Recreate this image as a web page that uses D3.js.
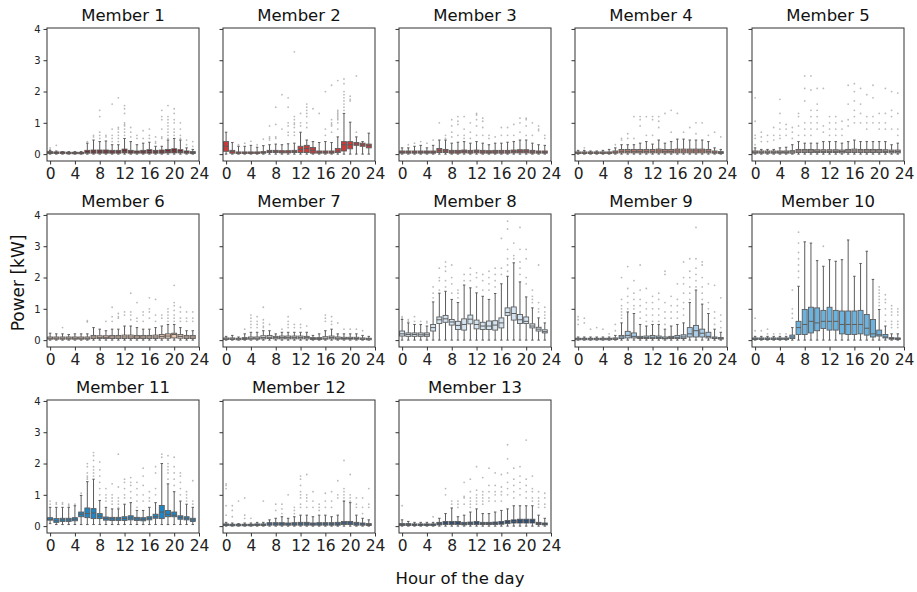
<!DOCTYPE html>
<html><head><meta charset="utf-8">
<script src="https://cdn.jsdelivr.net/npm/d3@7"></script>
<style>
body{margin:0;background:#fff;}
svg{font-family:"DejaVu Sans",sans-serif;}
</style></head>
<body><svg id="chart" width="917" height="592"></svg>
<script>
// ---- data: per hour [lowWhisker, q1, median, q3, highWhisker] ----
const hours = d3.range(24);
const xTicks = [0,4,8,12,16,20,24];
const yTicks = [0,1,2,3,4];
const memberNames = ["Member 1","Member 2","Member 3","Member 4","Member 5","Member 6","Member 7","Member 8","Member 9","Member 10","Member 11","Member 12","Member 13"];
const memberColors = ["#7b1f24","#c93a3a","#a34f4f","#c6806e","#b9a29d","#efc9b0","#dddddd","#d4e3f0","#a9cde8","#6cb2de","#1f86c6","#2b5f96","#0d3f7b"];

const m1Box = [[0,.02,.05,.08,.12],[0,.02,.04,.07,.1],[0,.02,.04,.07,.08],[0,.02,.04,.06,.08],[0,.02,.04,.06,.08],[0,.02,.04,.06,.08],[0,.03,.06,.12,.35],[0,.03,.07,.13,.45],[0,.03,.07,.13,.4],[0,.03,.07,.13,.42],[0,.03,.07,.12,.3],[0,.03,.07,.12,.3],[0,.04,.09,.16,.5],[0,.03,.07,.12,.4],[0,.03,.06,.1,.3],[0,.03,.07,.12,.35],[0,.03,.08,.14,.38],[0,.03,.07,.12,.25],[0,.03,.07,.13,.25],[0,.04,.09,.15,.45],[0,.04,.1,.17,.5],[0,.04,.08,.14,.45],[0,.03,.06,.1,.2],[0,.02,.05,.08,.15]];
const m1Out = [[.2,.15],[.28],[],[],[],[],[.4],[.6,.55],[1.4,1.2,.7,.6,.5],[.6,.55],[1.6,.8,.6,.5,.4],[1.8,.85,.8,.7,.6,.5,.4],[1.55,1.45,1.3,1,.95,.9,.8,.7,.6],[.85,.7,.55],[.6,.5],[.75,.5],[.8,.6,.5],[.55,.4,.35],[1.4,1.2,1.1,.8,.55,.5],[1.55,1.2,1.1,1,.9,.8,.7,.6,.5],[1.45,1.3,1.1,1,.8,.7,.6],[1,.8,.6,.5],[.45,.3],[.4,.25]];

const m2Box = [[0,.09,.25,.4,.7],[0,.03,.08,.12,.37],[0,.02,.04,.07,.25],[0,.02,.04,.07,.25],[0,.02,.04,.07,.28],[0,.02,.04,.07,.22],[0,.03,.05,.08,.27],[0,.05,.08,.12,.3],[0,.05,.08,.12,.32],[0,.04,.07,.11,.3],[0,.04,.07,.11,.33],[0,.05,.08,.12,.35],[0,.05,.15,.25,.7],[0,.05,.18,.28,.45],[0,.03,.12,.21,.4],[0,.03,.06,.1,.37],[0,.03,.06,.1,.4],[0,.03,.06,.1,.37],[0,.05,.1,.18,.55],[0,.1,.3,.4,1.3],[0,.17,.3,.4,1.02],[0,.28,.32,.37,.55],[0,.25,.3,.35,.4],[0,.2,.27,.32,.67]];
const m2Out = [[],[],[.3],[.35],[.41],[.3],[.48],[.9,.55,.5,.45],[1.5,.95,.55,.5],[1.9,.8],[1.8,1.5,1,.9,.7,.6],[3.27,1.2,1.1,1,.95,.85,.7,.6],[1.3,1,.9],[1.6,1.5,1.4,1.3,1.2,1,.85],[1.45],[1.3],[2,.8,.6],[2.2,1.1,1,.95,.9,.7],[2.35,1.4,1.35,1.3,1.25,1.2,1.15,1.1,1,.8],[2.4,2.25,2,1.9,1.8,1.7,1.6,1.5,1.4],[1.85,1.75,1.7],[2.5,.7],[],[]];

const m3Box = [[0,.03,.06,.1,.2],[0,.03,.06,.1,.2],[0,.03,.06,.1,.25],[0,.03,.06,.1,.28],[0,.03,.06,.1,.2],[0,.03,.06,.1,.28],[0,.05,.11,.18,.45],[0,.05,.1,.15,.45],[0,.03,.07,.12,.35],[0,.03,.07,.12,.38],[0,.04,.08,.13,.4],[0,.03,.07,.12,.35],[0,.04,.08,.13,.4],[0,.03,.07,.12,.35],[0,.03,.06,.11,.3],[0,.03,.07,.12,.35],[0,.03,.07,.12,.35],[0,.03,.07,.12,.38],[0,.04,.08,.13,.4],[0,.04,.09,.14,.45],[0,.04,.09,.14,.45],[0,.03,.07,.12,.35],[0,.03,.06,.1,.3],[0,.03,.06,.1,.28]];
const m3Out = [[],[.3],[.35],[.4],[.35],[.45],[1],[.6,.5],[1.1,.9,.7,.55],[1.2,1.05,.95,.6],[1.2,.8,.6,.5],[1,.7,.5],[1.3,1.25,1.1,.9,.6],[1.15,1.05,.85,.6],[.6,.5],[.55],[.85,.6],[.85,.6],[.95,.6],[1.15,1,.7],[1.15,1.1,.9,.6],[1,.6],[.9,.8,.75],[.6,.5]];

const m4Box = [[0,.02,.04,.07,.12],[0,.02,.04,.07,.12],[0,.02,.04,.07,.1],[0,.02,.04,.07,.1],[0,.02,.04,.07,.12],[0,.02,.04,.07,.15],[0,.03,.06,.1,.2],[0,.04,.09,.15,.3],[0,.04,.09,.15,.3],[0,.04,.09,.15,.3],[0,.04,.09,.15,.35],[0,.04,.09,.15,.4],[0,.04,.09,.15,.32],[0,.04,.1,.16,.45],[0,.04,.09,.15,.35],[0,.04,.09,.15,.4],[0,.04,.1,.16,.48],[0,.04,.1,.16,.48],[0,.04,.1,.16,.45],[0,.04,.1,.16,.45],[0,.04,.1,.16,.45],[0,.04,.09,.15,.4],[0,.03,.06,.1,.2],[0,.02,.05,.08,.15]];
const m4Out = [[],[.2],[],[],[],[],[.3],[.5,.45],[.65,.5],[1.2,.5],[1.2,1.1,.9],[1.2,.6],[1.2,1.1,.6],[1.2,1.05,.85],[1.3],[1.4,.7],[1.3],[.7],[.85],[1,.65],[1],[.6],[.7],[.55]];

const m5Box = [[0,.03,.06,.1,.2],[0,.03,.06,.1,.15],[0,.03,.06,.1,.15],[0,.03,.06,.1,.15],[0,.03,.06,.1,.2],[0,.03,.06,.1,.22],[0,.03,.07,.11,.3],[0,.05,.1,.15,.4],[0,.05,.1,.15,.35],[0,.05,.1,.15,.35],[0,.05,.09,.14,.35],[0,.05,.09,.14,.4],[0,.05,.09,.14,.4],[0,.05,.09,.14,.4],[0,.04,.08,.13,.35],[0,.05,.1,.15,.4],[0,.05,.1,.16,.45],[0,.05,.1,.15,.4],[0,.05,.1,.15,.4],[0,.05,.1,.15,.4],[0,.05,.1,.15,.4],[0,.05,.09,.14,.4],[0,.04,.08,.13,.3],[0,.04,.08,.13,.35]];
const m5Out = [[1.8,1.05,.6,.5,.3],[.7,.55,.4],[.6,.4],[.85,.6,.45],[1.75,1.3,1,.8,.6,.5],[.95,.8,.6],[.85,.7,.5],[1.3,1.2,.9,.6],[2.5,2.1,1.7,1,.8,.6],[2.5,2.05,1.4,1.2,1,.8,.6],[2.1,1.6,1.4,1.2,1,.8],[2.1,.9,.7],[1.2,1,.8,.6],[1.2,1,.8,.6],[1.05,.8,.6],[2.2,1.6,1.1,.9],[2.25,2,1.7,1.4,1.2,1],[2.1,1.6,1.3,1],[1.9,1.2,1,.8],[2.2,1.8,1.2,1],[1.3,1,.8],[2.1,1.3,1,.8],[2,1.4,1.2,.8],[1.95,1.3,.8,.6]];

const m6Box = [[0,.03,.06,.1,.22],[0,.03,.06,.1,.2],[0,.03,.06,.1,.2],[0,.03,.06,.1,.18],[0,.03,.06,.1,.2],[0,.03,.06,.1,.2],[0,.03,.06,.1,.2],[0,.05,.1,.15,.4],[0,.05,.09,.14,.35],[0,.05,.09,.14,.3],[0,.05,.1,.15,.35],[0,.05,.1,.15,.35],[0,.05,.1,.16,.45],[0,.05,.1,.16,.45],[0,.05,.1,.15,.4],[0,.05,.1,.15,.35],[0,.05,.1,.15,.35],[0,.05,.1,.16,.4],[0,.06,.12,.18,.45],[0,.06,.13,.2,.5],[0,.07,.18,.22,.5],[0,.06,.12,.18,.4],[0,.05,.1,.15,.3],[0,.05,.1,.15,.3]];
const m6Out = [[],[],[.4],[],[],[],[.62,.58],[],[],[.6],[1.05,.75,.6],[.85,.75,.7],[.9,.8],[1.5,.9,.8,.65],[1.2,.7,.6],[.9,.8,.6],[1.35,1,.9,.7],[1.3,.8,.6],[.8,.7],[1,.9,.8,.7,.6],[1.75,1.2,1.1,.95,.8,.7,.6],[1.05,.9,.7,.6],[.9,.7,.6],[.9,.7,.6]];

const m7Box = [[0,.02,.04,.07,.12],[0,.02,.04,.07,.15],[0,.02,.04,.06,.1],[0,.02,.05,.08,.2],[0,.03,.06,.1,.25],[0,.03,.06,.1,.25],[0,.04,.08,.14,.3],[0,.05,.09,.15,.3],[0,.04,.08,.12,.2],[0,.04,.08,.13,.25],[0,.04,.08,.13,.25],[0,.04,.08,.13,.25],[0,.04,.08,.13,.25],[0,.04,.08,.12,.25],[0,.02,.05,.08,.15],[0,.02,.05,.08,.2],[0,.03,.06,.11,.3],[0,.04,.08,.13,.35],[0,.03,.06,.1,.2],[0,.03,.05,.09,.2],[0,.03,.05,.09,.2],[0,.03,.05,.09,.2],[0,.02,.04,.07,.15],[0,.02,.04,.06,.12]];
const m7Out = [[],[],[],[.35],[.8,.7,.6,.5,.4],[.75,.6,.5,.4],[1.05,.65,.55,.45,.4],[.5],[],[.35],[.75,.6,.5,.4],[.5,.4],[1,.5,.4],[.45],[],[],[.8,.7,.6],[.75,.6,.5],[.55],[.35],[.35],[.35],[.3],[]];

const m8Box = [[0,.13,.2,.29,.66],[0,.12,.18,.23,.55],[0,.12,.18,.23,.5],[0,.12,.17,.23,.5],[0,.12,.17,.23,.45],[0,.29,.4,.5,1.22],[0,.53,.65,.74,1.5],[0,.57,.68,.79,1.56],[0,.48,.58,.66,1.3],[0,.34,.47,.6,1.2],[0,.32,.5,.68,1.76],[0,.52,.67,.8,1.67],[0,.36,.5,.64,1.51],[0,.34,.45,.57,1.4],[0,.34,.45,.61,1.3],[0,.32,.48,.62,1.49],[0,.39,.55,.71,1.8],[0,.79,.88,1.03,2.04],[0,.64,.85,1.06,2.47],[0,.53,.65,.82,1.86],[0,.53,.6,.74,1.38],[0,.39,.45,.52,1.03],[0,.29,.35,.41,.71],[0,.23,.27,.33,.55]];
const m8Out = [[.75,.7],[.65,.6],[.75,.6],[.6],[.6,.55],[1.7,1.5,1.35],[2.3,2,1.9,1.6],[2.5,2.35,2.2,1.9,1.7],[2.4,2,1.8,1.5],[1.6,1.5,1.35],[2.1,1.9],[2.3,2.1,1.9],[2.15,2,1.7],[2.1,1.9,1.6],[2.2,2,1.8,1.6],[2.3,2.1,1.9,1.7],[3.25,2.3,2.1],[3.8,3.55,2.9,2.6,2.4,2.2],[3.1,2.7,2.6],[3.6,2.9,2.5,2.3,2.1],[2.9,2.6,2,1.8],[1.6,1.4,1.3,1.2],[2.4,1.2,1,.9],[1.05,.9,.8,.7]];

const m9Box = [[0,.02,.04,.06,.1],[0,.02,.04,.06,.1],[0,.02,.04,.06,.1],[0,.02,.04,.06,.1],[0,.02,.04,.06,.1],[0,.02,.04,.06,.1],[0,.02,.04,.07,.15],[0,.05,.1,.15,.55],[0,.07,.15,.28,.9],[0,.07,.12,.23,.85],[0,.05,.08,.12,.5],[0,.05,.08,.13,.45],[0,.05,.09,.15,.5],[0,.05,.08,.13,.5],[0,.04,.06,.1,.35],[0,.05,.08,.12,.45],[0,.05,.09,.15,.5],[0,.05,.1,.17,.55],[0,.1,.2,.4,1.2],[0,.1,.3,.47,1.6],[0,.1,.22,.35,1.15],[0,.07,.12,.25,.85],[0,.05,.07,.1,.35],[0,.04,.06,.08,.25]];
const m9Out = [[.75,.65,.5],[.7,.55],[.35],[.4],[.35],[.2],[.5,.3],[2,1.3,1.1,1,.9,.8,.7],[2.35,1.65,1.4,1.2,1],[1.9,1.5,1.3,1.1,1],[2.4,1.6,1.3,1.1,.9,.7],[1.65,1.2,1,.8,.6],[1.4,1.2,1,.8,.6],[1.5,1.3,1,.8,.6],[2.2,2.1,1.2,.9,.7,.5],[1.4,1.1,.9,.7],[1.8,1.3,1.1,.9,.7],[2.5,2,1.8,1.5,1.2,1,.8],[2.6,2.2,2,1.7,1.5,1.3],[3.6,2.6,2.3,2.1,1.9,1.7],[2.5,2.4,2,1.7,1.5,1.3],[1.8,1.2,1],[1.75,.9,.7,.5],[1.35,.8,.6,.4]];

const m10Box = [[0,.02,.04,.07,.12],[0,.02,.04,.07,.12],[0,.02,.04,.07,.12],[0,.02,.04,.07,.12],[0,.02,.04,.07,.12],[0,.02,.04,.07,.12],[0,.05,.1,.16,.4],[0,.18,.4,.6,1.72],[0,.18,.5,.98,3.14],[0,.23,.6,1.05,3.1],[0,.3,.55,1.03,2.54],[0,.37,.6,.95,2.36],[0,.32,.6,1.05,2.57],[0,.32,.6,.95,2.52],[0,.2,.5,.93,2.57],[0,.18,.5,.93,3.2],[0,.18,.5,.93,2.04],[0,.2,.5,.95,2.45],[0,.16,.38,.82,2.84],[0,.1,.2,.66,1.94],[0,.13,.17,.32,.98],[0,.07,.1,.18,.45],[0,.03,.05,.08,.2],[0,.03,.05,.07,.2]];
const m10Out = [[.7,.3],[.3],[.35,.2],[.2],[.2],[.2],[1.6,1,.85,.7],[3.45,3.1,2.8,2.6,2.4,2.2,2],[],[],[],[3],[],[],[],[],[],[],[],[],[1.7,1.6,1.5,1.4,1.3,1.2,1.1],[1.45,1.3,1.2,1,.8,.6],[1.1,1,.9,.8,.6,.5,.4],[1,.9,.8,.6,.5,.4]];

const m11Box = [[.08,.19,.22,.27,.6],[.05,.12,.17,.24,.6],[.05,.15,.2,.25,.6],[.05,.15,.2,.25,.6],[.05,.17,.22,.27,.65],[.05,.3,.38,.45,.98],[.05,.27,.4,.58,1.42],[.05,.24,.42,.56,1.5],[.05,.24,.32,.4,.82],[.05,.19,.24,.29,.6],[.05,.18,.23,.28,.55],[.05,.18,.23,.28,.55],[.05,.18,.24,.3,.7],[.05,.2,.26,.33,.75],[.05,.18,.23,.28,.5],[.05,.17,.22,.27,.5],[.05,.2,.25,.3,.6],[.05,.25,.3,.38,.75],[.05,.24,.45,.66,2],[.05,.3,.38,.5,1.35],[.05,.3,.35,.45,1.1],[.05,.22,.28,.33,.8],[.05,.2,.25,.3,.7],[.05,.15,.2,.25,.6]];
const m11Out = [[.8,.7],[.75,.7],[.75,.7],[.7,.65],[.7],[1.05],[2,1.9,1.7,1.6,1.55,1.5],[2.35,2.25,2.1,1.9,1.8,1.7,1.6],[2.05,1.8,1.6,1.4,1.2,1],[1.2,1,.9,.8],[1.35,1,.9,.8,.7],[2.3,1.25,.9,.8,.7,.6],[1.5,1.4,1.2,1,.9],[1.55,1.4,1.3,1.1,.9],[1.4,1.2,1,.8,.6],[1.85,1.6,1.3,1,.8],[1.1,.9,.8],[1.9,1.7,1.2,1],[2.3,2.2],[2.25,2,1.9,1.8,1.7,1.5],[2.2,1.9,1.7,1.5,1.3],[1.7,1.6,1.4,1.2,1],[1.1,1,.9,.8],[1.45,.8,.7]];

const m12Box = [[0,.02,.04,.07,.12],[0,.02,.04,.06,.1],[0,.02,.04,.06,.08],[0,.02,.04,.06,.1],[0,.02,.04,.06,.1],[0,.02,.04,.07,.12],[0,.02,.04,.07,.12],[0,.03,.07,.11,.2],[0,.03,.07,.11,.25],[0,.03,.07,.11,.3],[0,.03,.06,.1,.25],[0,.03,.07,.11,.3],[0,.03,.07,.12,.35],[0,.03,.07,.12,.35],[0,.03,.06,.1,.3],[0,.03,.07,.11,.35],[0,.03,.07,.11,.35],[0,.03,.07,.11,.3],[0,.03,.07,.12,.35],[0,.05,.1,.15,.8],[0,.05,.1,.15,.75],[0,.03,.07,.12,.35],[0,.03,.06,.1,.25],[0,.02,.05,.08,.2]];
const m12Out = [[1.35,1.3,1.2,.65,.35],[.65,.5,.3],[.8],[.9,.35,.25],[.25],[],[.8],[],[.7,.5],[.7,.55,.4],[1],[.6,.5,.4],[1.6,1.5,1.3,1.1,1,.9,.7,.6],[1.65,1,.9,.8,.6],[1.1,.8,.6],[.7,.6,.5],[1.05,.8,.6],[1.1,.8,.6],[1.45,1,.9],[2.1,1.2,1.1,1,.9,.8],[1.65,1,.9,.8],[.9,.7,.6],[.9,.6,.4],[1.2,.7,.6]];

const m13Box = [[0,.02,.05,.08,.2],[0,.02,.05,.08,.15],[0,.02,.04,.07,.12],[0,.02,.04,.07,.12],[0,.02,.04,.07,.12],[0,.02,.04,.07,.12],[0,.04,.08,.12,.25],[0,.05,.1,.15,.4],[0,.05,.1,.15,.58],[0,.05,.1,.15,.3],[0,.04,.08,.12,.35],[0,.05,.09,.13,.45],[0,.05,.1,.15,.55],[0,.05,.08,.12,.4],[0,.05,.08,.12,.4],[0,.05,.09,.13,.45],[0,.06,.1,.15,.5],[0,.08,.13,.18,.55],[0,.1,.15,.2,.65],[0,.1,.16,.22,.65],[0,.1,.16,.22,.65],[0,.1,.16,.22,.65],[0,.05,.08,.12,.35],[0,.04,.07,.1,.25]];
const m13Out = [[.65],[],[],[],[],[.3],[],[1.2,1],[.8,.7],[.8,.7,.6],[1.4,.95,.9,.7],[1.5,1.1,.9,.8,.7,.6],[1.9,1.15,1,.9,.8,.7],[1.55,1.1,1,.9,.8,.7],[1.85,1.3,1.1,.9,.8],[1.7,1.3,1.1,1,.8],[1.65,1.25,1.1,1,.8],[2.6,2.15,1.7,1.4,1.2,1],[1.85,1.5,1.3,1.1,.9],[1.9,1.6,1.4,1.2,1],[2.75,1.5,1.3,1.1,.9],[1.6,1.2,1.1,.9,.8],[1.1,.9,.8,.7,.6],[1.05,.9,.7,.6]];

const allBoxes = [m1Box,m2Box,m3Box,m4Box,m5Box,m6Box,m7Box,m8Box,m9Box,m10Box,m11Box,m12Box,m13Box];
const allOut = [m1Out,m2Out,m3Out,m4Out,m5Out,m6Out,m7Out,m8Out,m9Out,m10Out,m11Out,m12Out,m13Out];

// ---- layout ----
const colX = [47,223,399,575,752];
const rowY = [28,214,400];
const W = 152, H = 133;
const svg = d3.select("#chart");
const edge = "#5c5c5c";

memberNames.forEach((name, i) => {
  const col = i % 5, row = Math.floor(i / 5);
  const g = svg.append("g").attr("transform", `translate(${colX[col]},${rowY[row]})`);
  const x = d3.scaleLinear().domain([-0.5, 24]).range([0, W]);
  const y = d3.scaleLinear().domain([-0.22, 4.03]).range([H, 0]);
  const bw = (x(1) - x(0)) * 0.8;
  const data = allBoxes[i].map((d, h) => ({h, lo:d[0], q1:d[1], med:d[2], q3:d[3], hi:d[4], out: allOut[i][h]}));

  // outliers
  const pts = [];
  data.forEach(d => d.out.forEach(v => pts.push({h:d.h, v})));
  g.append("g").selectAll("circle").data(pts).join("circle")
    .attr("cx", d => x(d.h)).attr("cy", d => y(d.v)).attr("r", 0.9)
    .attr("fill", "#8c8c8c").attr("opacity", 0.6);

  const bg = g.append("g").selectAll("g").data(data).join("g");
  // whiskers
  bg.append("line").attr("x1", d => x(d.h)).attr("x2", d => x(d.h))
    .attr("y1", d => y(d.q3)).attr("y2", d => y(d.hi)).attr("stroke", edge).attr("stroke-width", 1);
  bg.append("line").attr("x1", d => x(d.h)).attr("x2", d => x(d.h))
    .attr("y1", d => y(d.q1)).attr("y2", d => y(d.lo)).attr("stroke", edge).attr("stroke-width", 1);
  // caps
  bg.append("line").attr("x1", d => x(d.h) - bw/4).attr("x2", d => x(d.h) + bw/4)
    .attr("y1", d => y(d.hi)).attr("y2", d => y(d.hi)).attr("stroke", edge).attr("stroke-width", 1);
  bg.append("line").attr("x1", d => x(d.h) - bw/4).attr("x2", d => x(d.h) + bw/4)
    .attr("y1", d => y(d.lo)).attr("y2", d => y(d.lo)).attr("stroke", edge).attr("stroke-width", 1);
  // boxes
  bg.append("rect").attr("x", d => x(d.h) - bw/2).attr("width", bw)
    .attr("y", d => y(d.q3)).attr("height", d => Math.max(1.5, y(d.q1) - y(d.q3)))
    .attr("fill", memberColors[i]).attr("stroke", edge).attr("stroke-width", 0.9);
  // median
  bg.append("line").attr("x1", d => x(d.h) - bw/2).attr("x2", d => x(d.h) + bw/2)
    .attr("y1", d => y(d.med)).attr("y2", d => y(d.med)).attr("stroke", edge).attr("stroke-width", 1);

  // frame
  g.append("rect").attr("width", W).attr("height", H).attr("fill", "none")
    .attr("stroke", "#333").attr("stroke-width", 1);

  // axes
  const xa = g.append("g").attr("transform", `translate(0,${H})`)
    .call(d3.axisBottom(x).tickValues(xTicks).tickSize(3.5).tickPadding(3).tickFormat(d3.format("d")));
  xa.select(".domain").remove();
  xa.selectAll("line").attr("stroke", "#333");
  xa.selectAll("text").attr("font-size", "15.5px").attr("fill", "#222").attr("font-family", "DejaVu Sans");

  const ya = g.append("g")
    .call(d3.axisLeft(y).tickValues(yTicks).tickSize(3.5).tickPadding(3).tickFormat(col === 0 ? d3.format("d") : () => ""));
  ya.select(".domain").remove();
  ya.selectAll("line").attr("stroke", "#333");
  ya.selectAll("text").attr("font-size", "10px").attr("fill", "#222").attr("font-family", "DejaVu Sans");

  // title
  g.append("text").attr("x", W/2).attr("y", -7).attr("text-anchor", "middle")
    .attr("font-size", "16.5px").attr("fill", "#111").text(name);
});

svg.append("text").attr("transform", "translate(24,283) rotate(-90)").attr("text-anchor", "middle")
  .attr("font-size", "17px").attr("fill", "#111").text("Power [kW]");
svg.append("text").attr("x", 460).attr("y", 584).attr("text-anchor", "middle")
  .attr("font-size", "16.5px").attr("fill", "#111").text("Hour of the day");
</script></body></html>
